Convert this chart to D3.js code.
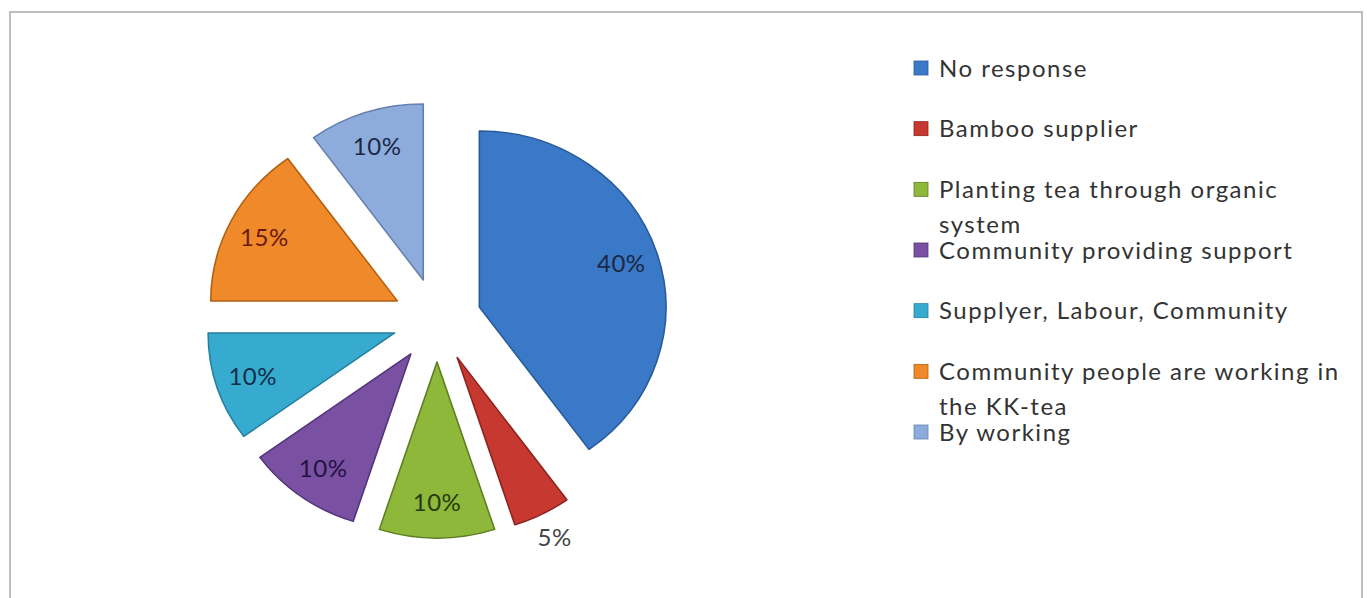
<!DOCTYPE html>
<html>
<head>
<meta charset="utf-8">
<script src="https://cdn.jsdelivr.net/npm/d3@7"></script>
<style>
  body { margin: 0; background: #fff; }
  text { font-family: Lato, "Open Sans", sans-serif; }
</style>
</head>
<body>
<script>
// data
var categories = ["No response", "Bamboo supplier", "Planting tea through organic system",
  "Community providing support", "Supplyer, Labour, Community",
  "Community people are working in the KK-tea", "By working"];
var values = [40, 5, 10, 10, 10, 15, 10];
var legendLines = [["No response"], ["Bamboo supplier"], ["Planting tea through organic", "system"],
  ["Community providing support"], ["Supplyer, Labour, Community"],
  ["Community people are working in", "the KK-tea"], ["By working"]];
var colors = ["#3a78c8", "#c63830", "#8db83a", "#7950a2", "#36abcf", "#f0892a", "#8dacdc"];
var strokes = ["#285a98", "#8e2420", "#5f7e22", "#54357a", "#2580a0", "#b06010", "#6580b0"];
var labelColors = ["#1a2844", "#444", "#283810", "#22133e", "#0f2e48", "#6a1a10", "#1a2844"];

var width = 1367, height = 598;
var svg = d3.select("body").append("svg")
    .attr("width", width)
    .attr("height", height);

// chart frame
svg.append("rect")
    .attr("x", 10).attr("y", 12)
    .attr("width", 1352).attr("height", 600)
    .attr("fill", "#fff")
    .attr("stroke", "#bdbdbd")
    .attr("stroke-width", 2);

// pie
var cx = 437, cy = 320, radius = 176, explode = 42, stretch = 1.06;
var pie = d3.pie().sort(null).value(function(d) { return d; });
var arc = d3.arc().innerRadius(0).outerRadius(radius);
var labelArc = d3.arc().innerRadius(radius * 0.8).outerRadius(radius * 0.8);
var outArc = d3.arc().innerRadius(radius * 1.15).outerRadius(radius * 1.15);
var arcs = pie(values);

var g = svg.append("g")
    .attr("transform", "translate(" + cx + "," + cy + ") scale(" + stretch + ",1)");

function offset(d) {
  var a = (d.startAngle + d.endAngle) / 2;
  return [explode * Math.sin(a), -explode * Math.cos(a)];
}

var slice = g.selectAll("g.slice")
    .data(arcs)
  .enter().append("g")
    .attr("class", "slice")
    .attr("transform", function(d) { var o = offset(d); return "translate(" + o[0] + "," + o[1] + ")"; });

slice.append("path")
    .attr("d", arc)
    .attr("fill", function(d, i) { return colors[i]; })
    .attr("stroke", function(d, i) { return strokes[i]; })
    .attr("stroke-width", 1.5)
    .attr("stroke-linejoin", "round");

slice.append("text")
    .attr("transform", function(d, i) {
      var p = (i === 1 ? outArc : labelArc).centroid(d);
      return "translate(" + p[0] + "," + p[1] + ") scale(" + (1 / stretch) + ",1)";
    })
    .attr("text-anchor", "middle")
    .attr("dy", "0.36em")
    .attr("font-size", 24)
    .attr("letter-spacing", 0.5)
    .attr("fill", function(d, i) { return labelColors[i]; })
    .text(function(d) { return d.data + "%"; });

// legend
var ly = d3.scalePoint().domain(d3.range(categories.length)).range([68, 432]);
var legend = svg.selectAll("g.legend")
    .data(categories)
  .enter().append("g")
    .attr("class", "legend")
    .attr("transform", function(d, i) { return "translate(914," + ly(i) + ")"; });

legend.append("rect")
    .attr("x", 0).attr("y", -7)
    .attr("width", 14).attr("height", 14)
    .attr("fill", function(d, i) { return colors[i]; })
    .attr("stroke", function(d, i) { return strokes[i]; })
    .attr("stroke-width", 0.8);

legend.append("text")
    .attr("font-size", 24)
    .attr("letter-spacing", 1.5)
    .attr("fill", "#333")
    .selectAll("tspan")
    .data(function(d, i) { return legendLines[i]; })
  .enter().append("tspan")
    .attr("x", 25)
    .attr("y", function(d, j) { return j * 35; })
    .attr("dy", "0.36em")
    .text(function(d) { return d; });
</script>
</body>
</html>
